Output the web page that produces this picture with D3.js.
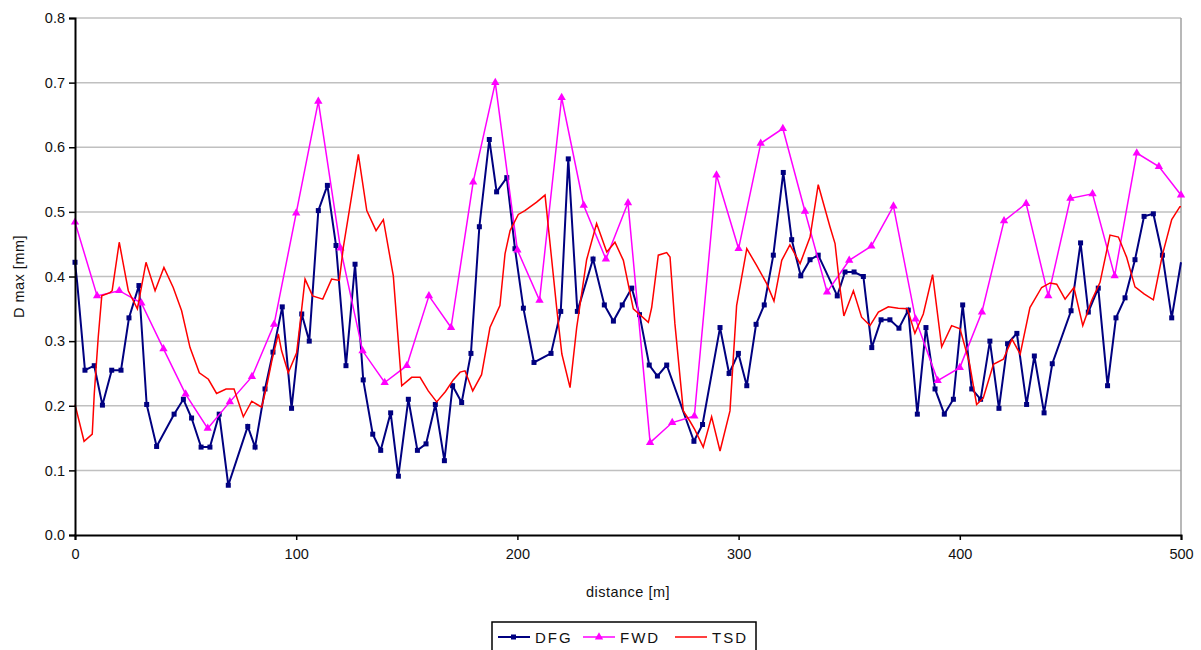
<!DOCTYPE html>
<html>
<head>
<meta charset="utf-8">
<script src="https://cdn.jsdelivr.net/npm/d3@7/dist/d3.min.js"></script>
<style>
  body { margin: 0; background: #fff; }
  svg { display: block; font-family: "Liberation Sans", Arial, sans-serif; }
</style>
</head>
<body>
<div id="chart"></div>
<script>
// series: [distance m, Dmax mm]
const dfg = [
  [0, 0.422], [1, 0.39], [4.5, 0.255], [8.7, 0.262], [12.4, 0.201], [16.6, 0.255], [20.8, 0.255],
  [24.4, 0.336], [28.9, 0.386], [32.4, 0.202], [36.9, 0.137], [44.8, 0.187], [49.0, 0.21],
  [52.7, 0.181], [57.0, 0.136], [61.0, 0.136], [65.2, 0.187], [69.3, 0.077], [78.1, 0.168],
  [81.4, 0.136], [85.9, 0.226], [89.5, 0.283], [93.7, 0.353], [97.9, 0.196], [102.5, 0.342],
  [105.9, 0.30], [110.0, 0.502], [114.1, 0.541], [118.0, 0.448], [122.5, 0.262], [126.6, 0.419],
  [130.3, 0.240], [134.6, 0.156], [138.2, 0.131], [142.7, 0.189], [146.2, 0.091], [150.7, 0.21],
  [154.8, 0.131], [158.7, 0.141], [162.9, 0.202], [167.0, 0.115], [170.7, 0.231], [174.8, 0.205],
  [179.0, 0.281], [182.8, 0.477], [187.3, 0.612], [190.6, 0.531], [195.2, 0.553], [198.9, 0.443],
  [202.7, 0.351], [207.5, 0.267], [215.2, 0.281], [219.6, 0.346], [223.0, 0.582], [227.1, 0.346],
  [234.2, 0.427], [239.3, 0.356], [243.4, 0.331], [247.4, 0.356], [251.7, 0.382], [255.2, 0.341],
  [259.6, 0.263], [263.3, 0.246], [267.5, 0.263], [279.8, 0.145], [283.7, 0.171], [291.6, 0.321],
  [295.7, 0.25], [299.9, 0.281], [303.7, 0.231], [307.9, 0.326], [311.6, 0.356], [315.7, 0.433],
  [320.2, 0.561], [324.0, 0.457], [328.1, 0.401], [332.3, 0.426], [336.0, 0.433], [344.6, 0.370],
  [348.1, 0.407], [352.2, 0.407], [356.4, 0.40], [360.2, 0.29], [364.4, 0.333], [368.4, 0.333],
  [372.5, 0.320], [376.7, 0.348], [380.8, 0.187], [384.7, 0.321], [388.8, 0.226], [393.0, 0.187],
  [397.1, 0.21], [401.3, 0.356], [405.4, 0.226], [409.4, 0.21], [413.6, 0.30], [417.7, 0.196],
  [421.6, 0.296], [425.8, 0.312], [430.2, 0.202], [433.7, 0.277], [438.1, 0.189], [441.8, 0.265],
  [450.3, 0.347], [454.6, 0.452], [458.1, 0.345], [462.6, 0.382], [466.8, 0.231], [470.6, 0.336],
  [474.7, 0.367], [479.2, 0.426], [483.3, 0.493], [487.5, 0.497], [491.6, 0.433], [495.8, 0.336],
  [500, 0.422]
];
const dfgMarkerless = [1, 500];

const fwd = [
  [0, 0.484], [10, 0.370], [20, 0.378], [30, 0.359], [40, 0.288], [50, 0.218], [60, 0.165],
  [70, 0.206], [80, 0.245], [90, 0.326], [100, 0.498], [110, 0.671], [120, 0.444], [130, 0.285],
  [140, 0.236], [150, 0.262], [160, 0.370], [170, 0.321], [180, 0.546], [190, 0.700], [200, 0.441],
  [210, 0.363], [220, 0.677], [230, 0.510], [240, 0.427], [250, 0.514], [260, 0.143], [270, 0.174],
  [280, 0.184], [290, 0.557], [300, 0.443], [310, 0.606], [320, 0.629], [330, 0.501], [340, 0.376],
  [350, 0.425], [360, 0.447], [370, 0.509], [380, 0.334], [390, 0.239], [400, 0.259], [410, 0.345],
  [420, 0.486], [430, 0.513], [440, 0.370], [450, 0.521], [460, 0.528], [470, 0.401], [480, 0.591],
  [490, 0.570], [500, 0.526]
];

const tsd = [
  [0, 0.202], [4.1, 0.145], [7.8, 0.156], [8.7, 0.218], [10.5, 0.306], [12.1, 0.370], [15.8, 0.375],
  [16.8, 0.378], [20.0, 0.453], [21.8, 0.42], [24.1, 0.378], [28.2, 0.35], [32.1, 0.422],
  [36.2, 0.378], [40.2, 0.414], [44.4, 0.383], [48.2, 0.347], [52.0, 0.29], [56.2, 0.251],
  [60.3, 0.241], [64.0, 0.219], [68.3, 0.226], [71.9, 0.226], [76.1, 0.183], [79.9, 0.207],
  [83.3, 0.2], [84.4, 0.198], [86.7, 0.231], [89.0, 0.27], [91.9, 0.311], [93.4, 0.285],
  [96.4, 0.251], [100.2, 0.282], [101.7, 0.326], [104.0, 0.396], [107.4, 0.37], [112.0, 0.365],
  [116.0, 0.396], [119.5, 0.394], [121.3, 0.445], [124.0, 0.502], [128.1, 0.589], [131.9, 0.502],
  [136.1, 0.471], [139.4, 0.488], [143.9, 0.401], [147.7, 0.231], [152.2, 0.244], [156.0, 0.244],
  [159.7, 0.223], [163.5, 0.206], [167.5, 0.222], [171.0, 0.24], [174.1, 0.252], [176.3, 0.254],
  [179.8, 0.223], [183.8, 0.248], [187.6, 0.321], [192.1, 0.355], [194.4, 0.435], [196.7, 0.471],
  [200.4, 0.496], [203.4, 0.502], [208.7, 0.515], [212.5, 0.526], [217.8, 0.35], [220.1, 0.28],
  [223.8, 0.228], [226.8, 0.321], [231.3, 0.426], [235.8, 0.482], [240.4, 0.438], [244.1, 0.453],
  [247.9, 0.425], [252.4, 0.35], [259.2, 0.329], [260.7, 0.352], [263.7, 0.433], [267.5, 0.437],
  [269.0, 0.43], [271.2, 0.327], [275.0, 0.192], [278.0, 0.176], [280.2, 0.163], [284.0, 0.136],
  [287.8, 0.183], [291.6, 0.13], [296.1, 0.192], [299.1, 0.355], [303.7, 0.443], [308.2, 0.417],
  [312.7, 0.389], [316.0, 0.362], [319.5, 0.425], [323.2, 0.449], [327.8, 0.42], [332.3, 0.461],
  [336.0, 0.542], [341.3, 0.477], [343.6, 0.451], [345.8, 0.383], [347.6, 0.339], [351.9, 0.378],
  [355.6, 0.337], [359.4, 0.324], [363.2, 0.345], [367.7, 0.353], [372.2, 0.351], [376.3, 0.35],
  [379.7, 0.312], [383.5, 0.342], [387.7, 0.403], [391.8, 0.291], [396.3, 0.324], [400.1, 0.319],
  [404.3, 0.267], [407.6, 0.202], [410.6, 0.212], [415.2, 0.264], [419.7, 0.272], [423.6, 0.303],
  [427.3, 0.28], [431.7, 0.352], [437.0, 0.383], [440.8, 0.39], [443.8, 0.388], [447.6, 0.365],
  [451.6, 0.383], [455.6, 0.324], [459.6, 0.363], [463.4, 0.391], [467.9, 0.464], [471.7, 0.461],
  [475.4, 0.43], [479.2, 0.384], [483.3, 0.373], [487.5, 0.364], [491.7, 0.435], [495.8, 0.488],
  [499.5, 0.508], [500, 0.508]
];

const xTicks = [0, 100, 200, 300, 400, 500];
const yTicks = [0, 0.1, 0.2, 0.3, 0.4, 0.5, 0.6, 0.7, 0.8];
const seriesNames = ["DFG", "FWD", "TSD"];

const W = 1201, H = 650;
const margin = { top: 18, right: 20, bottom: 115, left: 75 };

const svg = d3.select("#chart").append("svg")
    .attr("width", W)
    .attr("height", H);

const x = d3.scaleLinear().domain([0, 500]).range([margin.left, W - margin.right]);
const y = d3.scaleLinear().domain([0, 0.8]).range([H - margin.bottom, margin.top]);

// grid
svg.append("g")
    .selectAll("line")
    .data(yTicks.filter(d => d > 0))
    .enter()
    .append("line")
    .attr("x1", x(0))
    .attr("x2", x(500))
    .attr("y1", d => y(d))
    .attr("y2", d => y(d))
    .attr("stroke", "#c0c0c0")
    .attr("stroke-width", 1.5);

// right border of the plot area
svg.append("line")
    .attr("x1", x(500)).attr("x2", x(500))
    .attr("y1", y(0.8)).attr("y2", y(0))
    .attr("stroke", "#a0a0a0")
    .attr("stroke-width", 1.5);

const line = d3.line().x(d => x(d[0])).y(d => y(d[1]));

// DFG
svg.append("path")
    .datum(dfg)
    .attr("fill", "none")
    .attr("stroke", "#000080")
    .attr("stroke-width", 2)
    .attr("d", line);

svg.append("g")
    .selectAll("rect")
    .data(dfg.filter(d => !dfgMarkerless.includes(d[0])))
    .enter()
    .append("rect")
    .attr("x", d => x(d[0]) - 2.5)
    .attr("y", d => y(d[1]) - 2.5)
    .attr("width", 5)
    .attr("height", 5)
    .attr("fill", "#000080");

// FWD
svg.append("path")
    .datum(fwd)
    .attr("fill", "none")
    .attr("stroke", "#ff00ff")
    .attr("stroke-width", 1.5)
    .attr("d", line);

const tri = d3.symbol().type(d3.symbolTriangle).size(30);
svg.append("g")
    .selectAll("path")
    .data(fwd)
    .enter()
    .append("path")
    .attr("d", tri)
    .attr("transform", d => `translate(${x(d[0])},${y(d[1])})`)
    .attr("fill", "#ff00ff");

// TSD
svg.append("path")
    .datum(tsd)
    .attr("fill", "none")
    .attr("stroke", "#ff0000")
    .attr("stroke-width", 1.5)
    .attr("d", line);

// axes
const xAxis = svg.append("g")
    .attr("transform", `translate(0,${y(0)})`)
    .call(d3.axisBottom(x).tickValues(xTicks).tickSize(5).tickFormat(d3.format("d")));
const yAxis = svg.append("g")
    .attr("transform", `translate(${x(0)},0)`)
    .call(d3.axisLeft(y).tickValues(yTicks).tickSize(6).tickFormat(d3.format(".1f")));

[xAxis, yAxis].forEach(a => {
    a.select(".domain").attr("stroke", "#000").attr("stroke-width", 2);
    a.selectAll(".tick line").attr("stroke", "#000").attr("stroke-width", 1.5);
    a.selectAll("text")
        .style("font-size", "14.5px")
        .attr("fill", "#111");
});
xAxis.selectAll("text").attr("dy", "1.1em");
yAxis.selectAll("text").attr("x", -10);

// axis titles
svg.append("text")
    .attr("x", (x(0) + x(500)) / 2)
    .attr("y", 597)
    .attr("text-anchor", "middle")
    .style("font-size", "14.5px")
    .style("letter-spacing", "0.5px")
    .attr("fill", "#111")
    .text("distance [m]");

svg.append("text")
    .attr("transform", `translate(24,${(y(0) + y(0.8)) / 2}) rotate(-90)`)
    .attr("text-anchor", "middle")
    .style("font-size", "14.5px")
    .style("letter-spacing", "0.5px")
    .attr("fill", "#111")
    .text("D max [mm]");

// legend
const lg = svg.append("g").attr("transform", "translate(492,622)");
lg.append("rect")
    .attr("width", 264)
    .attr("height", 40)
    .attr("fill", "#fff")
    .attr("stroke", "#000")
    .attr("stroke-width", 1.5);

const legendX = [6, 91, 183];
const legendColor = ["#000080", "#ff00ff", "#ff0000"];
seriesNames.forEach((name, i) => {
    const g = lg.append("g").attr("transform", `translate(${legendX[i]},15)`);
    g.append("line")
        .attr("x1", 0).attr("x2", 32)
        .attr("stroke", legendColor[i])
        .attr("stroke-width", i === 0 ? 2 : 1.5);
    if (i === 0) {
        g.append("rect").attr("x", 13).attr("y", -2.5).attr("width", 5).attr("height", 5)
            .attr("fill", legendColor[i]);
    } else if (i === 1) {
        g.append("path").attr("d", tri).attr("transform", "translate(16,0)")
            .attr("fill", legendColor[i]);
    }
    g.append("text")
        .attr("x", 37)
        .attr("y", 5.5)
        .style("font-size", "15px")
        .style("letter-spacing", "2px")
        .attr("fill", "#111")
        .text(name);
});
</script>
</body>
</html>
